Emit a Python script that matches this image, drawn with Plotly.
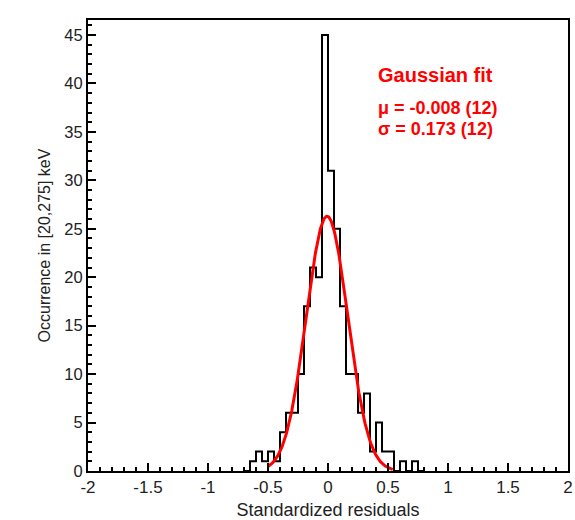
import numpy as np
import plotly.graph_objects as go

# Histogram data: bin edges (width 0.05) and counts
bin_edges = [-0.70, -0.65, -0.60, -0.55, -0.50, -0.45, -0.40, -0.35, -0.30, -0.25,
             -0.20, -0.15, -0.10, -0.05, 0.00, 0.05, 0.10, 0.15, 0.20, 0.25,
             0.30, 0.35, 0.40, 0.45, 0.50, 0.55, 0.60, 0.65, 0.70, 0.75, 0.80]
counts = [0, 1, 2, 1, 2, 1, 4, 6, 6, 10,
          17, 21, 20, 45, 31, 25, 17, 10, 10, 6,
          8, 2, 5, 2, 2, 0, 1, 0, 1, 0]

# Gaussian fit parameters
fit_mu = -0.008
fit_sigma = 0.173
fit_amp = 26.3
fit_range = [-0.50, 0.54]

x_ticks = [-2, -1.5, -1, -0.5, 0, 0.5, 1, 1.5, 2]
x_tick_text = ["-2", "-1.5", "-1", "-0.5", "0", "0.5", "1", "1.5", "2"]
y_ticks = [0, 5, 10, 15, 20, 25, 30, 35, 40, 45]

fig = go.Figure()

# step outline of histogram
step_x = list(bin_edges)
step_y = list(counts) + [0]
fig.add_trace(go.Scatter(x=step_x, y=step_y, mode="lines", line_shape="hv",
                         line=dict(color="black", width=2), hoverinfo="skip"))

# Gaussian fit curve
xf = np.linspace(fit_range[0], fit_range[1], 300)
yf = fit_amp * np.exp(-(xf - fit_mu) ** 2 / (2 * fit_sigma ** 2))
fig.add_trace(go.Scatter(x=xf, y=yf, mode="lines",
                         line=dict(color="#ff0000", width=3), hoverinfo="skip"))

font_family = "Liberation Sans, Arial, sans-serif"

fig.update_layout(
    width=575, height=520,
    margin=dict(l=88, r=2, t=20, b=47),
    paper_bgcolor="white", plot_bgcolor="white",
    showlegend=False,
    font=dict(family=font_family, color="#222", size=16),
    xaxis=dict(range=[-2, 2], tickvals=x_ticks, ticktext=x_tick_text,
               ticks="inside", ticklen=8, tickwidth=2, tickcolor="black",
               minor=dict(ticks="inside", ticklen=4, tickwidth=2, dtick=0.1, tickcolor="black"),
               showline=True, linecolor="black", linewidth=2, mirror=True,
               showgrid=False, zeroline=False, ticklabeloverflow="allow",
               tickfont=dict(size=17),
               title=dict(text="Standardized residuals", font=dict(size=18), standoff=8)),
    yaxis=dict(range=[0, 46.55], tickvals=y_ticks,
               ticks="inside", ticklen=8, tickwidth=2, tickcolor="black",
               minor=dict(ticks="inside", ticklen=4, tickwidth=2, dtick=1, tickcolor="black"),
               showline=True, linecolor="black", linewidth=2, mirror=True,
               showgrid=False, zeroline=False,
               tickfont=dict(size=16.5),
               title=dict(text="Occurrence in [20,275] keV", font=dict(size=16), standoff=10)),
)

red = "#ff0000"
fig.add_annotation(xref="paper", yref="paper", x=0.601, y=0.8786, xanchor="left", yanchor="middle",
                   text="<b>Gaussian fit</b>", showarrow=False,
                   font=dict(size=20, color=red, family=font_family))
fig.add_annotation(xref="paper", yref="paper", x=0.601, y=0.8057, xanchor="left", yanchor="middle",
                   text="<b>\u03bc = -0.008 (12)</b>", showarrow=False,
                   font=dict(size=18, color=red, family=font_family))
fig.add_annotation(xref="paper", yref="paper", x=0.601, y=0.7594, xanchor="left", yanchor="middle",
                   text="<b>\u03c3 = 0.173 (12)</b>", showarrow=False,
                   font=dict(size=18, color=red, family=font_family))

fig.write_html("out.html")
